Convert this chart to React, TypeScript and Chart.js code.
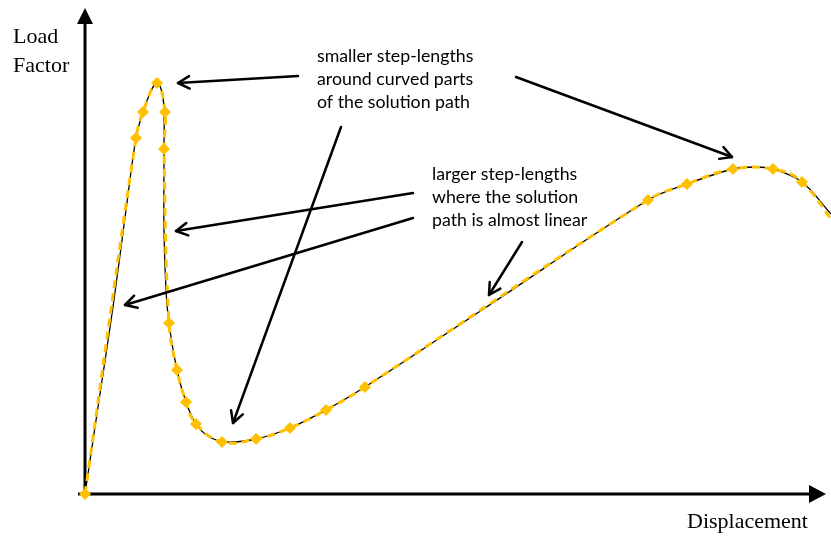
import { useEffect, useRef } from "react";
import { Chart, registerables } from "chart.js";
Chart.register(...registerables);

// Exact solution path (black curve): displacement / load factor (arbitrary units)
const pathDisp = [0, 13, 28, 41, 51, 58, 65, 70, 73, 77, 79, 79, 79, 81, 84, 92, 101, 111, 123, 140, 171, 205, 241, 280, 400, 563, 602, 648, 670, 688, 717, 746];
const pathLoad = [0, 87, 187, 284, 356, 382, 401, 410, 411, 402, 384, 345, 264, 204, 171, 124, 92, 70, 58, 52, 55, 66, 84, 107, 186, 294, 310, 325, 327, 325, 312, 280];

// Arc-length steps (orange diamonds)
const stepDisp = [0, 51, 58, 72, 80, 79, 84, 92, 101, 111, 137, 171, 205, 241, 280, 563, 602, 648, 688, 717, 760];
const stepLoad = [0, 356, 382, 411, 382, 345, 171, 124, 92, 70, 52, 55, 66, 84, 107, 294, 310, 325, 325, 312, 254];

// Axis ranges
const X_MIN = -85, X_MAX = 746, Y_MIN = -45, Y_MAX = 494;

// Annotation texts and arrows (in data units)
const noteSmall = ["smaller step-lengths", "around curved parts", "of the solution path"];
const noteSmallAt = [232, 432];
const noteLarge = ["larger step-lengths", "where the solution", "path is almost linear"];
const noteLargeAt = [347, 314];
const noteLineStep = 23;
// [fromX, fromY, toX, toY]
const arrowsSmall = [
  [213, 418, 93, 411],
  [256, 367, 148, 71],
  [431, 417, 647, 337],
];
const arrowsLarge = [
  [328, 301, 91, 263],
  [328, 276, 40, 189],
  [437, 252, 404, 199],
];
const yTitle = ["Load", "Factor"];
const yTitleAt = [-72, 451];
const xTitle = "Displacement";
const xTitleAt = [602, -34];

function fitFont(ctx: CanvasRenderingContext2D, family: string, text: string, w: number) {
  let size = 10;
  for (let s = 10; s <= 24; s += 0.25) {
    ctx.font = `${s}px ${family}`;
    if (ctx.measureText(text).width <= w) size = s;
  }
  return size;
}

const decorPlugin = {
  id: "decor",
  beforeDatasetsDraw(chart: any) {
    const ctx = chart.ctx as CanvasRenderingContext2D;
    const xs = chart.scales.x, ys = chart.scales.y;
    const px = (v: number) => xs.getPixelForValue(v);
    const py = (v: number) => ys.getPixelForValue(v);
    ctx.save();
    ctx.strokeStyle = "#000";
    ctx.fillStyle = "#000";
    ctx.lineWidth = 3;
    // y axis
    ctx.beginPath();
    ctx.moveTo(px(0), py(-3));
    ctx.lineTo(px(0), py(472));
    ctx.stroke();
    ctx.beginPath();
    ctx.moveTo(px(0), py(486));
    ctx.lineTo(px(0) - 8, py(470));
    ctx.lineTo(px(0) + 8, py(470));
    ctx.closePath();
    ctx.fill();
    // x axis
    ctx.beginPath();
    ctx.moveTo(px(-7), py(0));
    ctx.lineTo(px(726), py(0));
    ctx.stroke();
    ctx.beginPath();
    ctx.moveTo(px(741), py(0));
    ctx.lineTo(px(724), py(0) - 9);
    ctx.lineTo(px(724), py(0) + 9);
    ctx.closePath();
    ctx.fill();
    // titles
    ctx.font = "22px 'Liberation Serif', 'Times New Roman', serif";
    ctx.textBaseline = "alphabetic";
    ctx.textAlign = "left";
    ctx.fillText(yTitle[0], px(yTitleAt[0]), py(yTitleAt[1]));
    ctx.fillText(yTitle[1], px(yTitleAt[0]), py(yTitleAt[1] - 29));
    ctx.fillText(xTitle, px(xTitleAt[0]), py(xTitleAt[1]));
    ctx.restore();
  },
  afterDatasetsDraw(chart: any) {
    const ctx = chart.ctx as CanvasRenderingContext2D;
    const xs = chart.scales.x, ys = chart.scales.y;
    const px = (v: number) => xs.getPixelForValue(v);
    const py = (v: number) => ys.getPixelForValue(v);
    ctx.save();
    ctx.strokeStyle = "#000";
    ctx.lineWidth = 2.5;
    ctx.lineCap = "round";
    ctx.lineJoin = "round";
    for (const a of [...arrowsSmall, ...arrowsLarge]) {
      const x1 = px(a[0]), y1 = py(a[1]), x2 = px(a[2]), y2 = py(a[3]);
      const ang = Math.atan2(y2 - y1, x2 - x1);
      const L = 13, spread = 0.5;
      ctx.beginPath();
      ctx.moveTo(x1, y1);
      ctx.lineTo(x2, y2);
      ctx.stroke();
      ctx.beginPath();
      ctx.moveTo(x2 - L * Math.cos(ang - spread), y2 - L * Math.sin(ang - spread));
      ctx.lineTo(x2, y2);
      ctx.lineTo(x2 - L * Math.cos(ang + spread), y2 - L * Math.sin(ang + spread));
      ctx.stroke();
    }
    const fam = "Lato, 'Open Sans', sans-serif";
    const size = fitFont(ctx, fam, noteSmall[0], 158);
    ctx.font = `${size}px ${fam}`;
    ctx.fillStyle = "#000";
    ctx.textAlign = "left";
    ctx.textBaseline = "alphabetic";
    noteSmall.forEach((t, i) => ctx.fillText(t, px(noteSmallAt[0]), py(noteSmallAt[1] - i * noteLineStep)));
    noteLarge.forEach((t, i) => ctx.fillText(t, px(noteLargeAt[0]), py(noteLargeAt[1] - i * noteLineStep)));
    ctx.restore();
  },
};

export default function App() {
  const ref = useRef<HTMLCanvasElement | null>(null);
  useEffect(() => {
    if (!ref.current) return;
    const chart = new Chart(ref.current, {
      type: "scatter",
      data: {
        datasets: [
          {
            label: "steps",
            data: stepDisp.map((x, i) => ({ x, y: stepLoad[i] })),
            showLine: true,
            borderColor: "#FFC000",
            backgroundColor: "#FFC000",
            borderWidth: 3,
            borderDash: [8, 5],
            pointStyle: "rectRot",
            pointRadius: 6,
            pointBorderWidth: 0,
            pointBackgroundColor: "#FFC000",
            tension: 0.4,
          },
          {
            label: "path",
            data: pathDisp.map((x, i) => ({ x, y: pathLoad[i] })),
            showLine: true,
            borderColor: "#000",
            borderWidth: 1.3,
            pointRadius: 0,
            tension: 0.35,
          },
        ],
      },
      options: {
        animation: false,
        responsive: false,
        layout: { padding: 0, autoPadding: false },
        plugins: { legend: { display: false }, tooltip: { enabled: false } },
        scales: {
          x: { type: "linear", min: X_MIN, max: X_MAX, display: false },
          y: { type: "linear", min: Y_MIN, max: Y_MAX, display: false },
        },
      },
      plugins: [decorPlugin],
    });
    return () => chart.destroy();
  }, []);
  return (
    <div style={{ position: "fixed", left: 0, top: 0, width: 831, height: 539, background: "#fff" }}>
      <canvas ref={ref} width={831} height={539} style={{ display: "block" }} />
    </div>
  );
}
